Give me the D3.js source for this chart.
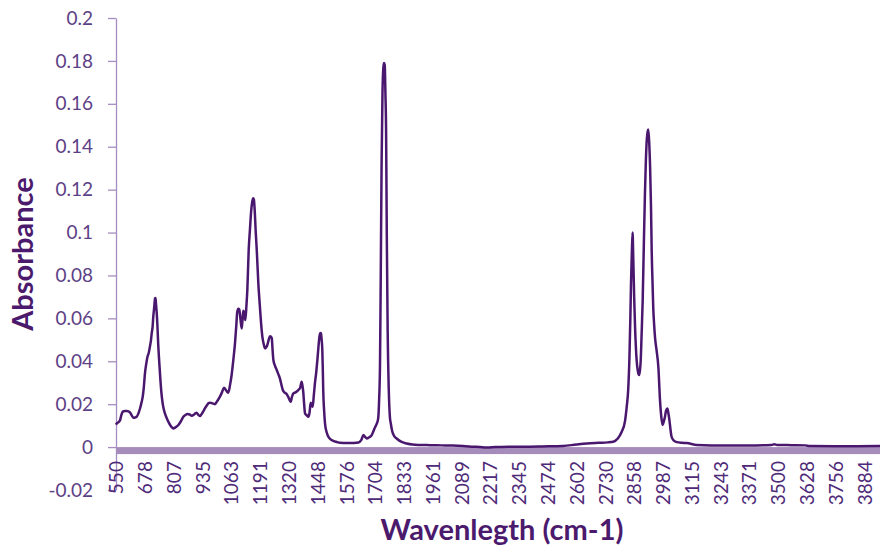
<!DOCTYPE html>
<html>
<head>
<meta charset="utf-8">
<script src="https://cdn.jsdelivr.net/npm/d3@7"></script>
<style>
  body { margin: 0; background: #fff; }
  svg { display: block; }
</style>
</head>
<body>
<div id="chart"></div>
<script>
// FTIR spectrum
const wavenumbers = [
  550, 553, 560, 568, 574, 580, 590, 598, 606, 612, 620, 627, 635, 642, 650, 657, 663, 669, 674, 679,
  685, 690, 696, 701, 706, 709, 713, 716, 720, 724, 726, 728, 731, 734, 738, 743, 748, 754, 760, 768,
  780, 791, 798, 805, 815, 828, 840, 850, 860, 868, 878, 887, 898, 905, 909, 915, 924, 935, 946, 955,
  962, 969, 980, 991, 1000, 1013, 1022, 1031, 1040, 1050, 1058, 1065, 1072, 1080, 1086, 1090, 1095, 1099, 1104, 1110,
  1114, 1117, 1121, 1126, 1131, 1135, 1141, 1147, 1152, 1157, 1161, 1164, 1168, 1172, 1177, 1184, 1191, 1196, 1202, 1208,
  1214, 1219, 1224, 1230, 1236, 1240, 1244, 1247, 1251, 1258, 1266, 1273, 1280, 1287, 1293, 1300, 1310, 1318, 1323, 1328,
  1334, 1340, 1350, 1362, 1370, 1377, 1380, 1384, 1388, 1392, 1400, 1407, 1412, 1417, 1421, 1426, 1431, 1436, 1442, 1447,
  1452, 1456, 1460, 1463, 1466, 1469, 1471, 1473, 1477, 1481, 1488, 1496, 1505, 1518, 1532, 1548, 1580, 1610, 1630, 1642,
  1652, 1660, 1667, 1678, 1689, 1697, 1704, 1712, 1718, 1722, 1726, 1729, 1733, 1737, 1741, 1744, 1747, 1750, 1753, 1756,
  1760, 1765, 1770, 1774, 1780, 1790, 1800, 1820, 1845, 1870, 1900, 1950, 2000, 2050, 2096, 2140, 2171, 2200, 2240, 2300,
  2394, 2450, 2541, 2600, 2647, 2700, 2740, 2765, 2785, 2802, 2817, 2825, 2831, 2837, 2841, 2844, 2848, 2851, 2854, 2858,
  2862, 2869, 2875, 2880, 2884, 2887, 2891, 2896, 2901, 2906, 2910, 2914, 2918, 2921, 2925, 2929, 2933, 2936, 2940, 2943,
  2947, 2951, 2958, 2966, 2973, 2979, 2985, 2990, 2995, 3000, 3006, 3010, 3015, 3020, 3025, 3035, 3048, 3070, 3092, 3137,
  3200, 3300, 3400, 3470, 3482, 3495, 3560, 3620, 3640, 3750, 3850, 3953
];
const absorbance = [
  0.0105, 0.011, 0.0115, 0.0125, 0.015, 0.0165, 0.0168, 0.0168, 0.0166, 0.0162, 0.0148, 0.0137, 0.0138, 0.0141, 0.0158, 0.018, 0.0205, 0.0235, 0.028, 0.0344,
  0.039, 0.042, 0.044, 0.0468, 0.05, 0.053, 0.056, 0.0607, 0.065, 0.0693, 0.0695, 0.067, 0.063, 0.0577, 0.048, 0.039, 0.031, 0.0235, 0.019, 0.0157,
  0.0125, 0.0103, 0.0093, 0.0087, 0.0092, 0.0103, 0.0122, 0.0141, 0.015, 0.0154, 0.0152, 0.0146, 0.0152, 0.0158, 0.016, 0.0152, 0.0145, 0.016, 0.018, 0.0195,
  0.0205, 0.0207, 0.0204, 0.02, 0.0213, 0.0235, 0.0255, 0.0277, 0.0265, 0.0253, 0.029, 0.0336, 0.04, 0.0483, 0.057, 0.063, 0.0645, 0.0642, 0.06, 0.0553,
  0.06, 0.0635, 0.0625, 0.0592, 0.066, 0.0732, 0.0918, 0.102, 0.11, 0.1145, 0.116, 0.1155, 0.11, 0.101, 0.0918, 0.0763, 0.0654, 0.058, 0.0514, 0.048,
  0.046, 0.0465, 0.0476, 0.05, 0.0517, 0.0515, 0.0507, 0.046, 0.0406, 0.038, 0.0359, 0.034, 0.032, 0.029, 0.0266, 0.0255, 0.0247, 0.0232, 0.022, 0.0211,
  0.0235, 0.025, 0.0255, 0.0266, 0.0275, 0.0304, 0.029, 0.0258, 0.02, 0.0157, 0.0148, 0.0141, 0.016, 0.0207, 0.0198, 0.0188, 0.024, 0.0297, 0.035, 0.0406,
  0.047, 0.0514, 0.0532, 0.053, 0.05, 0.0452, 0.037, 0.0266, 0.017, 0.011, 0.007, 0.0048, 0.0037, 0.0029, 0.0024, 0.002, 0.0019, 0.0019, 0.0021, 0.0032,
  0.0056, 0.0047, 0.004, 0.0046, 0.0056, 0.0075, 0.0093, 0.011, 0.0135, 0.022, 0.039, 0.0763, 0.132, 0.165, 0.177, 0.179, 0.178, 0.165, 0.148, 0.101,
  0.0545, 0.0266, 0.014, 0.011, 0.0075, 0.005, 0.004, 0.0025, 0.0017, 0.0012, 0.001, 0.0009, 0.0008, 0.0007, 0.0005, 0.0002, 0.0, -0.0002, 0.0, 0.0002,
  0.0002, 0.0003, 0.0005, 0.0012, 0.0017, 0.002, 0.0022, 0.0025, 0.004, 0.007, 0.012, 0.019, 0.026, 0.042, 0.06, 0.0765, 0.092, 0.1, 0.088, 0.07,
  0.056, 0.0405, 0.035, 0.0336, 0.036, 0.04, 0.052, 0.0685, 0.094, 0.118, 0.133, 0.143, 0.147, 0.148, 0.142, 0.1305, 0.112, 0.092, 0.076, 0.065,
  0.057, 0.051, 0.045, 0.037, 0.022, 0.014, 0.0103, 0.012, 0.014, 0.017, 0.018, 0.016, 0.0126, 0.008, 0.0047, 0.003, 0.0023, 0.002, 0.0019, 0.001,
  0.0008, 0.0008, 0.0008, 0.001, 0.0013, 0.001, 0.0009, 0.0008, 0.0005, 0.0004, 0.0004, 0.0005
];
const xTickLabels = [550, 678, 807, 935, 1063, 1191, 1320, 1448, 1576, 1704, 1833, 1961, 2089, 2217,
  2345, 2474, 2602, 2730, 2858, 2987, 3115, 3243, 3371, 3500, 3628, 3756, 3884];
const yTicks = [-0.02, 0, 0.02, 0.04, 0.06, 0.08, 0.1, 0.12, 0.14, 0.16, 0.18, 0.2];

const width = 880, height = 548;
const plot = { left: 116, right: 880, top: 18, bottom: 490 };

const svg = d3.select('#chart').append('svg')
  .attr('width', width)
  .attr('height', height);

const x = d3.scaleLinear()
  .domain([550, 3953])
  .range([plot.left, plot.right]);

const y = d3.scaleLinear()
  .domain([-0.02, 0.2])
  .range([plot.bottom, plot.top]);

const fontFamily = 'Lato, "Open Sans", sans-serif';

// Y axis
const yAxis = svg.append('g')
  .attr('transform', `translate(${plot.left},0)`)
  .call(d3.axisLeft(y).tickValues(yTicks).tickSize(8).tickSizeOuter(0).tickPadding(15)
    .tickFormat(d => String(+d.toFixed(2))));
yAxis.select('.domain').attr('stroke', '#a58dc1').attr('stroke-width', 1.3);
yAxis.selectAll('.tick line').attr('stroke', '#a58dc1').attr('stroke-width', 1.3);
yAxis.selectAll('text')
  .attr('fill', '#5d4186')
  .style('font-family', fontFamily)
  .style('font-size', '19px');

// thick horizontal axis band at zero
svg.append('rect')
  .attr('x', plot.left)
  .attr('y', y(0))
  .attr('width', plot.right - plot.left)
  .attr('height', 7)
  .attr('fill', '#a68cbb');

// X axis labels (rotated)
const xAxis = svg.append('g')
  .attr('transform', `translate(0,${y(0)})`)
  .call(d3.axisBottom(x).tickValues(xTickLabels).tickSize(0).tickFormat(d3.format('d')));
xAxis.select('.domain').remove();
xAxis.selectAll('text')
  .attr('transform', 'rotate(-90)')
  .attr('x', -14)
  .attr('y', 0)
  .attr('dy', '0.35em')
  .style('text-anchor', 'end')
  .attr('fill', '#4e2a78')
  .style('font-family', fontFamily)
  .style('font-size', '19px');

// spectrum line
const points = wavenumbers.map((w, i) => [w, absorbance[i]]);
svg.append('path')
  .datum(points)
  .attr('fill', 'none')
  .attr('stroke', '#4a176e')
  .attr('stroke-width', 2.5)
  .attr('stroke-linejoin', 'round')
  .attr('d', d3.line().x(d => x(d[0])).y(d => y(d[1])).curve(d3.curveMonotoneX));

// axis titles
svg.append('text')
  .attr('transform', 'translate(33,254) rotate(-90)')
  .attr('text-anchor', 'middle')
  .attr('fill', '#4b1a6d')
  .style('font-family', fontFamily)
  .style('font-weight', '700')
  .style('font-size', '29px')
  .text('Absorbance');

svg.append('text')
  .attr('x', 502)
  .attr('y', 540)
  .attr('text-anchor', 'middle')
  .attr('fill', '#4b1a6d')
  .style('font-family', fontFamily)
  .style('font-weight', '700')
  .style('font-size', '29px')
  .text('Wavenlegth (cm-1)');
</script>
</body>
</html>
